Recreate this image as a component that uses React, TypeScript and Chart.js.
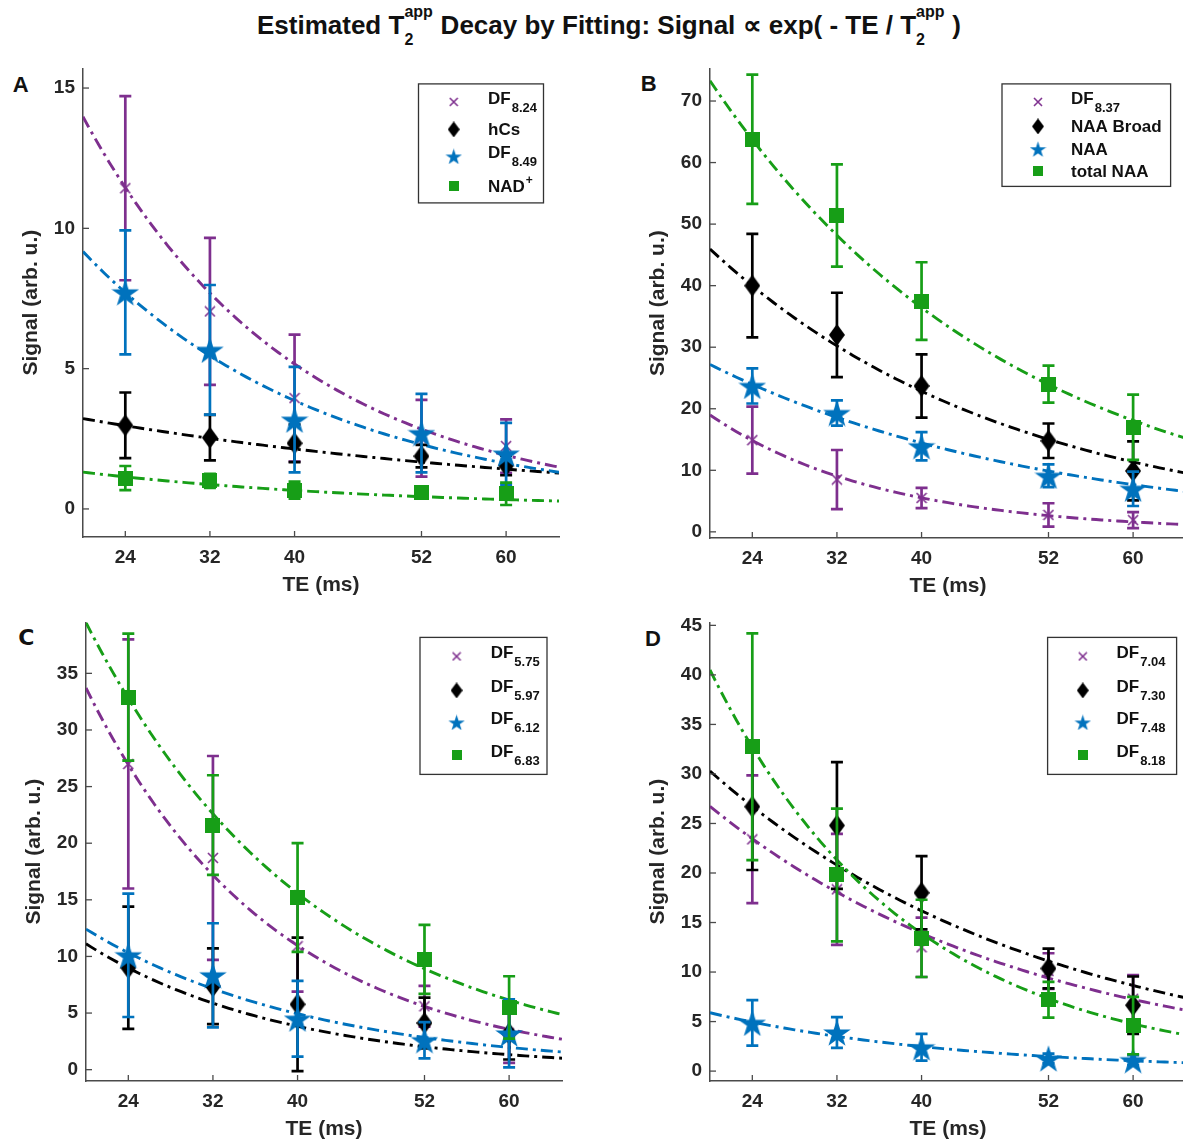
import React, { useEffect, useRef } from 'react';
import { Chart, registerables } from 'chart.js';

Chart.register(...registerables);

// ---------------- data ----------------
const TE = [24, 32, 40, 52, 60];
const X_TICKS = [24, 32, 40, 52, 60];
const X_RANGE = [20, 65];

// Panel A
const A_LABEL_MAIN = ['DF', 'hCs', 'DF', 'NAD'];
const A_LABEL_SUB = ['8.24', '', '8.49', ''];
const A_LABEL_SUP = ['', '', '', '+'];
const A_DF824 = [11.43, 7.04, 3.95, 2.52, 2.24];
const A_DF824_ERR = [3.28, 2.62, 2.26, 1.37, 0.95];
const A_HCS = [2.98, 2.54, 2.34, 1.88, 1.55];
const A_HCS_ERR = [1.17, 0.81, 0.67, 0.4, 0.35];
const A_DF849 = [7.72, 5.67, 3.18, 2.7, 1.97];
const A_DF849_ERR = [2.21, 2.31, 1.88, 1.4, 1.1];
const A_NAD = [1.1, 1.0, 0.67, 0.6, 0.54];
const A_NAD_ERR = [0.43, 0.25, 0.3, 0.1, 0.4];
const A_FIT_S0 = [37.8, 4.85, 21.8, 2.6];
const A_FIT_T2 = [20.1, 48.8, 23.1, 29.2];
const A_Y_TICKS = [0, 5, 10, 15];
const A_Y_RANGE = [-1, 15.7];

// Panel B
const B_LABEL_MAIN = ['DF', 'NAA Broad', 'NAA', 'total NAA'];
const B_LABEL_SUB = ['8.37', '', '', ''];
const B_LABEL_SUP = ['', '', '', ''];
const B_DF837 = [14.9, 8.5, 5.5, 2.75, 1.9];
const B_DF837_ERR = [5.45, 4.8, 1.65, 1.9, 1.3];
const B_NAA_BROAD = [40.0, 32.0, 23.7, 14.8, 9.9];
const B_NAA_BROAD_ERR = [8.4, 6.85, 5.15, 2.8, 4.8];
const B_NAA = [23.7, 19.3, 13.9, 9.1, 7.0];
const B_NAA_ERR = [2.85, 2.05, 2.3, 1.85, 2.8];
const B_TOTAL_NAA = [63.8, 51.4, 37.5, 24.0, 17.0];
const B_TOTAL_NAA_ERR = [10.5, 8.3, 6.3, 3.0, 5.3];
const B_FIT_S0 = [65.3, 92.5, 51.2, 147.5];
const B_FIT_T2 = [16.2, 28.6, 31.6, 28.6];
const B_Y_TICKS = [0, 10, 20, 30, 40, 50, 60, 70];
const B_Y_RANGE = [-1, 75.3];

// Panel C
const C_LABEL_MAIN = ['DF', 'DF', 'DF', 'DF'];
const C_LABEL_SUB = ['5.75', '5.97', '6.12', '6.83'];
const C_LABEL_SUP = ['', '', '', ''];
const C_DF575 = [27.0, 18.7, 10.9, 5.6, 3.2];
const C_DF575_ERR = [11.0, 9.0, 4.0, 1.8, 2.6];
const C_DF597 = [9.0, 7.37, 5.77, 4.12, 3.2];
const C_DF597_ERR = [5.4, 3.35, 5.9, 2.25, 2.3];
const C_DF612 = [10.1, 8.33, 4.5, 2.6, 3.2];
const C_DF612_ERR = [5.45, 4.6, 3.35, 1.6, 3.0];
const C_DF683 = [32.9, 21.6, 15.2, 9.74, 5.5];
const C_DF683_ERR = [5.6, 4.4, 4.8, 3.05, 2.75];
const C_FIT_S0 = [103.7, 32.2, 31.2, 100.1];
const C_FIT_T2 = [17.8, 18.8, 21.7, 21.5];
const C_Y_TICKS = [0, 5, 10, 15, 20, 25, 30, 35];
const C_Y_RANGE = [-1, 39.5];

// Panel D
const D_LABEL_MAIN = ['DF', 'DF', 'DF', 'DF'];
const D_LABEL_SUB = ['7.04', '7.30', '7.48', '8.18'];
const D_LABEL_SUP = ['', '', '', ''];
const D_DF704 = [23.4, 18.35, 12.5, 10.1, 7.3];
const D_DF704_ERR = [6.45, 5.6, 3.0, 1.8, 2.4];
const D_DF730 = [26.7, 24.8, 18.0, 10.36, 6.65];
const D_DF730_ERR = [6.4, 6.4, 3.7, 2.0, 2.9];
const D_DF748 = [4.87, 3.9, 2.4, 1.27, 1.1];
const D_DF748_ERR = [2.3, 1.55, 1.35, 0.5, 0.5];
const D_DF818 = [32.75, 19.8, 13.4, 7.2, 4.6];
const D_DF818_ERR = [11.45, 6.7, 3.9, 1.8, 2.9];
const D_FIT_S0 = [51.4, 56.7, 14.0, 118.0];
const D_FIT_T2 = [30.6, 31.9, 23.1, 18.7];
const D_Y_TICKS = [0, 5, 10, 15, 20, 25, 30, 35, 40, 45];
const D_Y_RANGE = [-1, 45.3];

// ---------------- style ----------------
type Kind = 'cross' | 'diamond' | 'star' | 'square';
const SERIES_COLORS = ['#7E2F8E', '#000000', '#0072BD', '#179E17'];
const SERIES_KINDS: Kind[] = ['cross', 'diamond', 'star', 'square'];
const FONT = "'Liberation Sans', Arial, Helvetica, sans-serif";
const TEXT_COLOR = '#262626';
const AXIS_COLOR = '#4a4a4a';

const PLOT_MARKER: Record<Kind, [number, number]> = {
  cross: [12, 12],
  diamond: [16, 22],
  star: [28, 27],
  square: [15, 15],
};
const LEGEND_MARKER: Record<Kind, [number, number]> = {
  cross: [10, 10],
  diamond: [12, 16],
  star: [17, 16],
  square: [10, 10],
};

function makeMarker(kind: Kind, color: string, dims: [number, number]): HTMLCanvasElement {
  const [w, h] = dims;
  const c = document.createElement('canvas');
  c.width = w;
  c.height = h;
  const ctx = c.getContext('2d')!;
  ctx.fillStyle = color;
  ctx.strokeStyle = color;
  if (kind === 'cross') {
    ctx.lineWidth = 1.6;
    ctx.beginPath();
    ctx.moveTo(1, 1);
    ctx.lineTo(w - 1, h - 1);
    ctx.moveTo(w - 1, 1);
    ctx.lineTo(1, h - 1);
    ctx.stroke();
  } else if (kind === 'diamond') {
    ctx.beginPath();
    ctx.moveTo(w / 2, 0);
    ctx.lineTo(w, h / 2);
    ctx.lineTo(w / 2, h);
    ctx.lineTo(0, h / 2);
    ctx.closePath();
    ctx.fill();
  } else if (kind === 'star') {
    const R = Math.min(w / 2 / 0.951, h / 1.809) - 0.2;
    const r = R * 0.382;
    const cx = w / 2;
    const cy = (h - 1.809 * R) / 2 + R;
    ctx.beginPath();
    for (let k = 0; k < 10; k++) {
      const a = -Math.PI / 2 + (k * Math.PI) / 5;
      const rr = k % 2 === 0 ? R : r;
      const px = cx + rr * Math.cos(a);
      const py = cy + rr * Math.sin(a);
      if (k === 0) ctx.moveTo(px, py);
      else ctx.lineTo(px, py);
    }
    ctx.closePath();
    ctx.fill();
  } else {
    ctx.fillRect(0, 0, w, h);
  }
  return c;
}

interface Series {
  main: string;
  sub: string;
  sup: string;
  values: number[];
  errors: number[];
  s0: number;
  t2: number;
}

interface PanelDef {
  letter: string;
  series: Series[];
  yTicks: number[];
  yRange: number[];
  area: { l: number; t: number; w: number; h: number };
  legend: { x: number; y: number; w: number; h: number; markerX: number; textX: number; rows: number[] };
  letterPos: { left: number; top: number; font: string };
}

function mkSeries(main: string[], sub: string[], sup: string[], vals: number[][], errs: number[][], s0: number[], t2: number[]): Series[] {
  return vals.map((v, i) => ({ main: main[i], sub: sub[i], sup: sup[i], values: v, errors: errs[i], s0: s0[i], t2: t2[i] }));
}

const PANELS: PanelDef[] = [
  {
    letter: 'A',
    series: mkSeries(A_LABEL_MAIN, A_LABEL_SUB, A_LABEL_SUP, [A_DF824, A_HCS, A_DF849, A_NAD], [A_DF824_ERR, A_HCS_ERR, A_DF849_ERR, A_NAD_ERR], A_FIT_S0, A_FIT_T2),
    yTicks: A_Y_TICKS,
    yRange: A_Y_RANGE,
    area: { l: 83, t: 61, w: 476, h: 476 },
    legend: { x: 335.5, y: 15.5, w: 125, h: 119, markerX: 370.7, textX: 405, rows: [33.5, 61, 88, 118] },
    letterPos: { left: 12.7, top: 73.7, font: FONT },
  },
  {
    letter: 'B',
    series: mkSeries(B_LABEL_MAIN, B_LABEL_SUB, B_LABEL_SUP, [B_DF837, B_NAA_BROAD, B_NAA, B_TOTAL_NAA], [B_DF837_ERR, B_NAA_BROAD_ERR, B_NAA_ERR, B_TOTAL_NAA_ERR], B_FIT_S0, B_FIT_T2),
    yTicks: B_Y_TICKS,
    yRange: B_Y_RANGE,
    area: { l: 710, t: 61, w: 476, h: 477 },
    legend: { x: 292, y: 15.5, w: 168.6, h: 102.5, markerX: 328, textX: 361, rows: [33.5, 58, 80.7, 103] },
    letterPos: { left: 640.7, top: 73, font: FONT },
  },
  {
    letter: 'C',
    series: mkSeries(C_LABEL_MAIN, C_LABEL_SUB, C_LABEL_SUP, [C_DF575, C_DF597, C_DF612, C_DF683], [C_DF575_ERR, C_DF597_ERR, C_DF612_ERR, C_DF683_ERR], C_FIT_S0, C_FIT_T2),
    yTicks: C_Y_TICKS,
    yRange: C_Y_RANGE,
    area: { l: 86, t: 615, w: 476, h: 466 },
    legend: { x: 334, y: 15, w: 127, h: 137, markerX: 370.6, textX: 404.7, rows: [34, 68, 100, 133] },
    letterPos: { left: 18.3, top: 627, font: "'DejaVu Sans', " + FONT },
  },
  {
    letter: 'D',
    series: mkSeries(D_LABEL_MAIN, D_LABEL_SUB, D_LABEL_SUP, [D_DF704, D_DF730, D_DF748, D_DF818], [D_DF704_ERR, D_DF730_ERR, D_DF748_ERR, D_DF818_ERR], D_FIT_S0, D_FIT_T2),
    yTicks: D_Y_TICKS,
    yRange: D_Y_RANGE,
    area: { l: 710, t: 615, w: 476, h: 466 },
    legend: { x: 337.6, y: 15, w: 129, h: 137, markerX: 372.8, textX: 406.5, rows: [34, 68, 100, 133] },
    letterPos: { left: 645, top: 628.4, font: FONT },
  },
];

const PAD_L = 72; // y-axis box width
const PAD_T = 12;
const PAD_R = 12;
const PAD_B = 62; // x-axis box height

const errorBarPlugin = {
  id: 'errorBars',
  beforeDatasetDraw(chart: any, args: any) {
    const ds: any = chart.data.datasets[args.index];
    if (!ds.errors) return;
    const ctx = chart.ctx;
    const xs = chart.scales.x;
    const ys = chart.scales.y;
    ctx.save();
    ctx.strokeStyle = ds.errColor;
    ctx.lineWidth = 2.7;
    ds.data.forEach((p: any, i: number) => {
      const e = ds.errors[i];
      const x = xs.getPixelForValue(p.x);
      const y1 = ys.getPixelForValue(p.y + e);
      const y2 = ys.getPixelForValue(p.y - e);
      ctx.beginPath();
      ctx.moveTo(x, y1);
      ctx.lineTo(x, y2);
      ctx.moveTo(x - 6, y1);
      ctx.lineTo(x + 6, y1);
      ctx.moveTo(x - 6, y2);
      ctx.lineTo(x + 6, y2);
      ctx.stroke();
    });
    ctx.restore();
  },
};

const inwardTicksPlugin = {
  id: 'inwardTicks',
  afterDraw(chart: any) {
    const { ctx, chartArea: ca, scales } = chart;
    ctx.save();
    ctx.strokeStyle = AXIS_COLOR;
    ctx.lineWidth = 1.3;
    scales.x.ticks.forEach((t: any) => {
      const x = scales.x.getPixelForValue(t.value);
      ctx.beginPath();
      ctx.moveTo(x, ca.bottom);
      ctx.lineTo(x, ca.bottom - 6);
      ctx.stroke();
    });
    scales.y.ticks.forEach((t: any) => {
      const y = scales.y.getPixelForValue(t.value);
      ctx.beginPath();
      ctx.moveTo(ca.left, y);
      ctx.lineTo(ca.left + 6, y);
      ctx.stroke();
    });
    ctx.restore();
  },
};

function legendPlugin(p: PanelDef, markers: HTMLCanvasElement[]) {
  return {
    id: 'panelLegend',
    afterDraw(chart: any) {
      const { ctx, chartArea: ca } = chart;
      const L = p.legend;
      ctx.save();
      ctx.fillStyle = '#ffffff';
      ctx.fillRect(ca.left + L.x, ca.top + L.y, L.w, L.h);
      ctx.strokeStyle = '#333333';
      ctx.lineWidth = 1.3;
      ctx.strokeRect(ca.left + L.x, ca.top + L.y, L.w, L.h);
      p.series.forEach((s, i) => {
        const my = ca.top + L.rows[i];
        const mx = ca.left + L.markerX;
        const m = markers[i];
        ctx.drawImage(m, mx - m.width / 2, my - m.height / 2);
        ctx.fillStyle = '#111111';
        ctx.textBaseline = 'alphabetic';
        ctx.textAlign = 'left';
        ctx.font = 'bold 17px ' + FONT;
        const tx = ca.left + L.textX;
        if (s.sub) {
          ctx.fillText(s.main, tx, my + 2);
          const w = ctx.measureText(s.main).width;
          ctx.font = 'bold 13px ' + FONT;
          ctx.fillText(s.sub, tx + w + 1, my + 10);
        } else {
          ctx.fillText(s.main, tx, my + 6);
          if (s.sup) {
            const w = ctx.measureText(s.main).width;
            ctx.font = 'bold 12px ' + FONT;
            ctx.fillText(s.sup, tx + w + 1, my - 2);
          }
        }
      });
      ctx.restore();
    },
  };
}

function buildConfig(p: PanelDef): any {
  const datasets: any[] = [];
  const legendMarkers: HTMLCanvasElement[] = [];
  p.series.forEach((s, i) => {
    const color = SERIES_COLORS[i];
    const kind = SERIES_KINDS[i];
    legendMarkers.push(makeMarker(kind, color, LEGEND_MARKER[kind]));
    const curve: { x: number; y: number }[] = [];
    for (let t = X_RANGE[0]; t <= X_RANGE[1] + 1e-9; t += 0.5) {
      curve.push({ x: t, y: s.s0 * Math.exp(-t / s.t2) });
    }
    datasets.push({
      label: s.main + s.sub + ' fit',
      data: curve,
      showLine: true,
      borderColor: color,
      borderWidth: 2.9,
      borderDash: [12, 5, 3, 5],
      pointRadius: 0,
      fill: false,
      order: 20 - i,
    });
    datasets.push({
      label: s.main + s.sub,
      data: TE.map((x, j) => ({ x, y: s.values[j] })),
      showLine: false,
      pointStyle: makeMarker(kind, color, PLOT_MARKER[kind]),
      pointRadius: 8,
      errors: s.errors,
      errColor: color,
      order: 4 - i,
    });
  });

  return {
    type: 'scatter',
    data: { datasets },
    options: {
      responsive: false,
      animation: false,
      events: [],
      layout: { padding: { top: PAD_T, right: PAD_R, left: 0, bottom: 0 } },
      plugins: { legend: { display: false }, tooltip: { enabled: false }, title: { display: false } },
      scales: {
        x: {
          type: 'linear',
          min: X_RANGE[0],
          max: X_RANGE[1],
          afterBuildTicks: (ax: any) => {
            ax.ticks = X_TICKS.map((v) => ({ value: v }));
          },
          afterFit: (ax: any) => {
            ax.height = PAD_B;
          },
          grid: { display: true, drawOnChartArea: false, drawTicks: false },
          border: { display: true, color: AXIS_COLOR, width: 1.5 },
          ticks: { font: { family: FONT, size: 19, weight: 'bold' }, color: TEXT_COLOR, padding: 9, maxRotation: 0, autoSkip: false },
          title: { display: true, text: 'TE (ms)', font: { family: FONT, size: 21, weight: 'bold' }, color: TEXT_COLOR, padding: { top: 0, bottom: 1.5 } },
        },
        y: {
          type: 'linear',
          min: p.yRange[0],
          max: p.yRange[1],
          afterBuildTicks: (ax: any) => {
            ax.ticks = p.yTicks.map((v) => ({ value: v }));
          },
          afterFit: (ax: any) => {
            ax.width = PAD_L;
          },
          grid: { display: true, drawOnChartArea: false, drawTicks: false },
          border: { display: true, color: AXIS_COLOR, width: 1.5 },
          ticks: { font: { family: FONT, size: 19, weight: 'bold' }, color: TEXT_COLOR, padding: 8, autoSkip: false },
          title: { display: true, text: 'Signal (arb. u.)', font: { family: FONT, size: 21, weight: 'bold' }, color: TEXT_COLOR, padding: { top: 8, bottom: 0 } },
        },
      },
    },
    plugins: [errorBarPlugin, inwardTicksPlugin, legendPlugin(p, legendMarkers)],
  };
}

function T2app() {
  return (
    <>
      T
      <span style={{ display: 'inline-block', width: 0, overflow: 'visible', whiteSpace: 'nowrap' }}>
        <span style={{ fontSize: 16, position: 'relative', top: -16.7 }}>app</span>
      </span>
      <span style={{ display: 'inline-block', width: 29 }}>
        <span style={{ fontSize: 16, position: 'relative', top: 11 }}>2</span>
      </span>
    </>
  );
}

export default function App() {
  const r0 = useRef<HTMLCanvasElement>(null);
  const r1 = useRef<HTMLCanvasElement>(null);
  const r2 = useRef<HTMLCanvasElement>(null);
  const r3 = useRef<HTMLCanvasElement>(null);
  const refs = [r0, r1, r2, r3];

  useEffect(() => {
    Chart.defaults.font.family = FONT;
    const charts = PANELS.map((p, i) => new Chart(refs[i].current as HTMLCanvasElement, buildConfig(p)));
    return () => charts.forEach((c) => c.destroy());
  }, []);

  return (
    <div style={{ position: 'absolute', left: 0, top: 0, width: 1183, height: 1142, overflow: 'hidden', background: '#fff', fontFamily: FONT, color: '#111' }}>
      <div
        style={{
          position: 'absolute',
          left: 609,
          top: 10,
          transform: 'translateX(-50%)',
          whiteSpace: 'nowrap',
          fontSize: 26,
          lineHeight: '30px',
          fontWeight: 'bold',
        }}
      >
        Estimated <T2app /> Decay by Fitting: Signal ∝ exp( - TE / <T2app /> )
      </div>
      {PANELS.map((p) => (
        <div
          key={p.letter}
          style={{ position: 'absolute', left: p.letterPos.left, top: p.letterPos.top, fontSize: 22, lineHeight: '22px', fontWeight: 'bold', fontFamily: p.letterPos.font }}
        >
          {p.letter}
        </div>
      ))}
      {PANELS.map((p, i) => (
        <canvas
          key={'c' + p.letter}
          ref={refs[i]}
          width={p.area.w + PAD_L + PAD_R}
          height={p.area.h + PAD_T + PAD_B}
          style={{
            position: 'absolute',
            left: p.area.l - PAD_L,
            top: p.area.t - PAD_T,
            width: p.area.w + PAD_L + PAD_R,
            height: p.area.h + PAD_T + PAD_B,
          }}
        />
      ))}
    </div>
  );
}
